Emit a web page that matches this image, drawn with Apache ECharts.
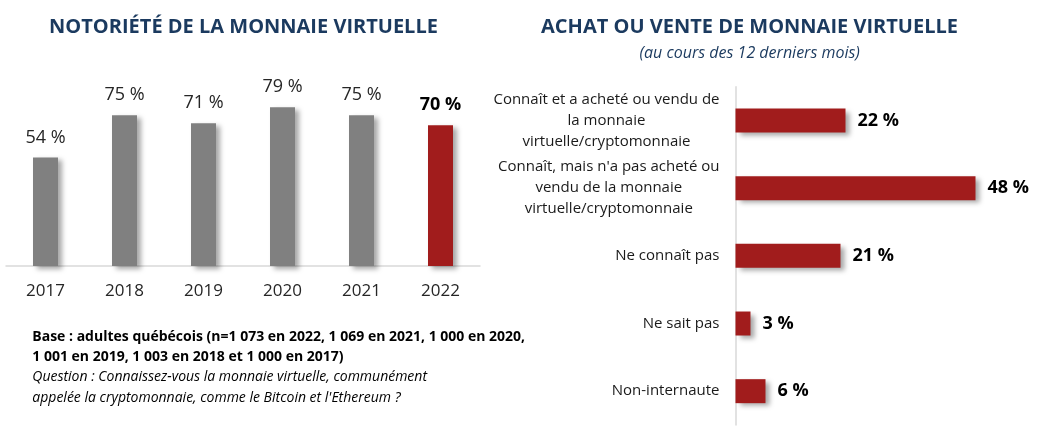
<!DOCTYPE html>
<html><head><meta charset="utf-8">
<script src="https://cdn.jsdelivr.net/npm/echarts@6/dist/echarts.min.js"></script>
<style>html,body{margin:0;padding:0;background:#fff}#c{width:1055px;height:439px}</style>
</head><body><div id="c"></div>
<script>
const years = ['2017','2018','2019','2020','2021','2022'];
const awareness = [54, 75, 71, 79, 75, 70];
const purchaseCats = [
  'Connaît et a acheté ou vendu de\nla monnaie\nvirtuelle/cryptomonnaie',
  "Connaît, mais n'a pas acheté ou\nvendu de la monnaie\nvirtuelle/cryptomonnaie",
  'Ne connaît pas',
  'Ne sait pas',
  'Non-internaute'
];
const purchaseVals = [22, 48, 21, 3, 6];
const leftTitle = 'NOTORIÉTÉ DE LA MONNAIE VIRTUELLE';
const rightTitle = 'ACHAT OU VENTE DE MONNAIE VIRTUELLE';
const rightSub = '(au cours des 12 derniers mois)';
const notes = [
  'Base : adultes québécois (n=1 073 en 2022, 1 069 en 2021, 1 000 en 2020,',
  '1 001 en 2019, 1 003 en 2018 et 1 000 en 2017)',
  'Question : Connaissez-vous la monnaie virtuelle, communément',
  "appelée la cryptomonnaie, comme le Bitcoin et l'Ethereum ?"
];

const FONT = 'Open Sans';
const NAVY = '#1b3a5f';
const RED = '#a11c1c';
const GREY = '#808080';
const shadow = {shadowColor:'rgba(0,0,0,0.35)', shadowBlur:5, shadowOffsetX:4, shadowOffsetY:3};

const chart = echarts.init(document.getElementById('c'), null, {renderer:'canvas'});
chart.setOption({
  animation:false,
  textStyle:{fontFamily:FONT},
  grid:[
    {left:6, width:474, top:65, height:201},
    {left:735.5, width:300, top:86.7, height:338.3}
  ],
  xAxis:[
    {gridIndex:0, type:'category', data:years,
     axisLine:{lineStyle:{color:'#d9d9d9', width:1.5}}, axisTick:{show:false},
     axisLabel:{fontFamily:FONT, fontSize:17, color:'#262626', margin:17}},
    {gridIndex:1, type:'value', min:0, max:60, show:false}
  ],
  yAxis:[
    {gridIndex:0, type:'value', min:0, max:100, show:false},
    {gridIndex:1, type:'category', data:purchaseCats, inverse:true,
     axisLine:{lineStyle:{color:'#d9d9d9', width:1.5}}, axisTick:{show:false},
     axisLabel:{fontFamily:FONT, fontSize:15, color:'#1a1a1a', margin:16, align:'right',
       formatter: v => v.split('\n').map(s => '{c|' + s + '}').join('\n'),
       rich:{c:{align:'center', fontFamily:FONT, fontSize:15, color:'#1a1a1a', lineHeight:21}}}}
  ],
  series:[
    {type:'bar', xAxisIndex:0, yAxisIndex:0, barWidth:25,
     data: awareness.map((v,i) => i === awareness.length-1 ? {
        value:v, itemStyle:{color:RED},
        label:{fontWeight:'bold', color:'#000'}} : v),
     itemStyle:Object.assign({color:GREY}, shadow),
     label:{show:true, position:'top', distance:11, fontFamily:FONT, fontSize:18, color:'#262626',
       formatter: p => p.value + ' %'}},
    {type:'bar', xAxisIndex:1, yAxisIndex:1, barWidth:24, data:purchaseVals,
     itemStyle:Object.assign({color:RED}, shadow),
     label:{show:true, position:'right', distance:12, fontFamily:FONT, fontSize:18, fontWeight:'bold', color:'#000',
       formatter: p => p.value + ' %'}}
  ],
  graphic:[
    {type:'text', x:243.5, y:27.7, style:{text:leftTitle, fill:NAVY, font:'bold 20px "Open Sans"', align:'center', verticalAlign:'middle'}},
    {type:'text', x:749.5, y:27.5, style:{text:rightTitle, fill:NAVY, font:'bold 20px "Open Sans"', align:'center', verticalAlign:'middle'}},
    {type:'text', x:749.7, y:53, style:{text:rightSub, fill:NAVY, font:'italic 16px "Open Sans"', align:'center', verticalAlign:'middle'}},
    {type:'text', x:32.3, y:336.7, style:{text:notes[0], fill:'#000', font:'bold 14px "Open Sans"', align:'left', verticalAlign:'middle'}},
    {type:'text', x:32.3, y:356.7, style:{text:notes[1], fill:'#000', font:'bold 14px "Open Sans"', align:'left', verticalAlign:'middle'}},
    {type:'text', x:32.3, y:377.3, style:{text:notes[2], fill:'#000', font:'italic 14px "Open Sans"', align:'left', verticalAlign:'middle'}},
    {type:'text', x:32.3, y:398.3, style:{text:notes[3], fill:'#000', font:'italic 14px "Open Sans"', align:'left', verticalAlign:'middle'}}
  ]
});
</script></body></html>
